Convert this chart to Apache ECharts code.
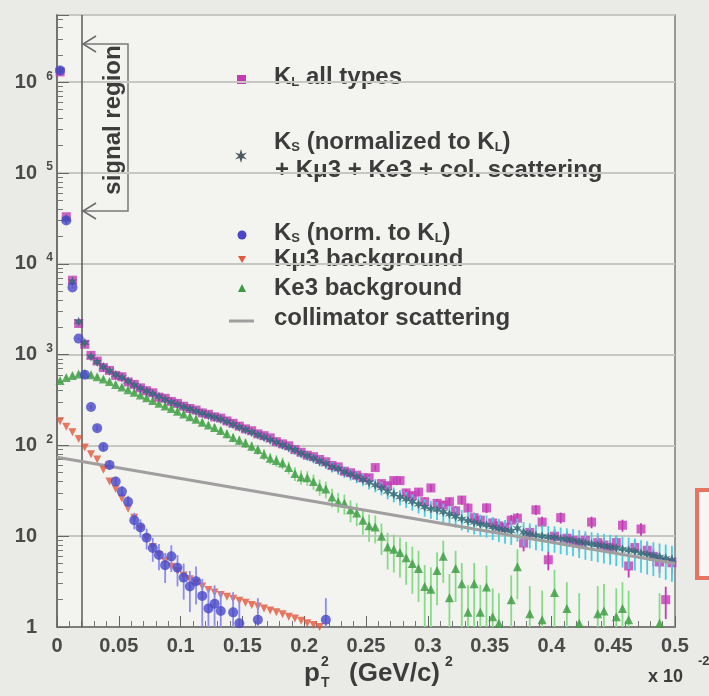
<!DOCTYPE html>
<html>
<head>
<meta charset="utf-8">
<script src="https://cdn.jsdelivr.net/npm/echarts@6/dist/echarts.min.js"></script>
<style>
  html, body { margin: 0; padding: 0; background: #eaeae6; }
  #chart { width: 709px; height: 696px; }
</style>
</head>
<body>
<div id="chart"></div>
<script>
// histogram: 100 bins of 0.005 over pT^2 = 0 .. 0.5 (x 10^-2)
const binWidth = 0.005
const binCenters = Array.from({ length: 100 }, (_, i) => +((i + 0.5) * binWidth).toFixed(4))

// K_L all types (data)
const kLAll = [
  1.3e6, 3.3e4, 6600, 2200, 1300, 980, 850, 720, 670, 590,
  570, 500, 470, 430, 400, 380, 340, 330, 305, 290,
  270, 255, 245, 228, 220, 206, 200, 186, 175, 163,
  152, 145, 134, 128, 121, 110, 104, 99, 90, 84,
  78, 75, 70, 66, 60, 58, 52, 50, 47, 44,
  44, 57, 38, 36, 41, 41, 30, 28, 30.6, 24,
  34, 23, 22, 24, 19, 25, 20.4, 16, 15, 20.5,
  14, 13, 12.5, 15, 15.8, 8.4, 11, 19.5, 14.3, 5.5,
  10, 16, 9.5, 9, 8.5, 9, 14.3, 8.5, 8, 7.5,
  8.5, 13.2, 4.7, 7.5, 12, 7, 6, 5.2, 2.0, 5.1
]

// K_S (normalized to K_L) + Kmu3 + Ke3 + col. scattering
const sumAll = [
  1.35e6, 3.1e4, 6400, 2300, 1350, 950, 830, 730, 660, 600,
  560, 510, 460, 425, 395, 370, 345, 320, 300, 283,
  266, 252, 238, 226, 214, 204, 194, 182, 170, 159,
  149, 140, 131, 123, 115, 108, 101, 95, 89, 82,
  77, 72, 67, 63, 58, 55, 51, 48, 45, 42,
  39, 36.5, 34, 31, 29, 27, 25.5, 24, 22.5, 21,
  20, 19.5, 18.5, 17.5, 16.5, 15.5, 14.8, 14.2, 13.6, 13.3,
  12.6, 12.1, 11.7, 11.4, 12.2, 11, 10.6, 10.2, 10, 9.8,
  9.7, 9.4, 9.2, 9, 8.7, 8.4, 8.2, 8, 7.8, 7.6,
  7.4, 7.2, 7, 6.8, 6.5, 6.3, 6.1, 5.9, 5.7, 5.5
]

// K_S (norm. to K_L)
const kSNorm = [
  1.35e6, 3.0e4, 5500, 1500, 600, 265, 155, 96, 61, 40,
  31, 24, 15, 12.5, 9.6, 7.4, 6.2, 4.8, 6.0, 4.5,
  3.5, 2.8, 3.2, 2.2, 1.6, 1.8, 1.5, null, 1.45, 1.1,
  null, null, 1.2, null, null, null, null, null, null, null,
  null, null, null, 1.2
]

// Kmu3 background
const kMu3 = [
  185, 160, 140, 118, 95, 80, 70, 54, 40, 33,
  26, 20, 16, 12, 9.5, 7.6, 6.2, 5.3, 4.6, 4.1,
  3.7, 3.35, 3.05, 2.8, 2.55, 2.4, 2.25, 2.15, 2.05, 1.95,
  1.85, 1.75, 1.68, 1.6, 1.52, 1.45, 1.38, 1.3, 1.24, 1.17,
  1.1, 1.05, 1.0
]

// Ke3 background
const kE3 = [
  520, 560, 590, 610, 615, 600, 570, 540, 505, 470,
  440, 410, 385, 360, 335, 312, 292, 272, 255, 238,
  222, 207, 194, 180, 168, 157, 146, 134, 122, 114,
  106, 98, 90, 80, 72, 68, 64, 57, 49, 45,
  44, 40, 35, 33, 27, 24, 23, 19.5, 18, 15,
  13, 12.6, 10, 7.6, 7.2, 6.6, 5.8, 5.0, 4.4, 2.8,
  2.6, 4.2, 6.0, 2.1, 4.4, 3.0, 1.45, 3.0, 1.45, 2.75,
  1.3, 1.1, null, 2.0, 4.6, null, 1.4, null, 1.2, null,
  2.4, null, 1.6, null, 1.1, null, null, 1.4, 1.5, null,
  1.3, 1.6, 1.2, null, null, null, null, 1.1, null, null
]

// collimator scattering (fit line)
const colX = [0, 0.5]
const colY = [74, 5]

// relative size of the statistical error bars, err = k * sqrt(v)
const errK = { kL: 0.55, sum: 1.0, kS: 0.8, kE3: 1.2 }

const pts = (arr) => binCenters.map((x, i) => [x, arr[i]]).filter(d => d[1] != null)
const errPts = (arr, k) => pts(arr).map(d => {
  const e = k * Math.sqrt(d[1])
  return [d[0], Math.max(d[1] - e, 0.3), d[1] + e]
})

function errSeries (name, arr, k, color, z) {
  return {
    name,
    type: 'custom',
    clip: true,
    z,
    silent: true,
    renderItem: (params, api) => {
      const a = api.coord([api.value(0), api.value(1)])
      const b = api.coord([api.value(0), api.value(2)])
      return {
        type: 'line',
        shape: { x1: a[0], y1: a[1], x2: b[0], y2: b[1] },
        style: { stroke: color, lineWidth: 1.8 }
      }
    },
    data: errPts(arr, k)
  }
}

const C = {
  kL: '#c43bb6',
  sum: '#2e6572',
  sumErr: '#48cde0',
  kS: '#4747c8',
  kSErr: '#8c8cf0',
  mu3: '#e2583c',
  e3: '#3a9b3e',
  e3Err: '#86dc86',
  col: '#a09e9e',
  text: '#3c3c3c'
}

const starPath = 'path://M0,-10 L2.6,-3.4 L8.7,-5 L4.2,0 L8.7,5 L2.6,3.4 L0,10 L-2.6,3.4 L-8.7,5 L-4.2,0 L-8.7,-5 L-2.6,-3.4 Z'

const font = 'Liberation Sans, Arial, sans-serif'
const legendFont = 'bold 24px ' + font
const subRich = { s: { fontSize: 13, fontWeight: 'bold', fontFamily: font, lineHeight: 12, verticalAlign: 'bottom', fill: C.text } }

function legendText (x, y, text) {
  return {
    type: 'text', x, y,
    style: { text, font: legendFont, fill: C.text, textVerticalAlign: 'middle', rich: subRich }
  }
}

const chart = echarts.init(document.getElementById('chart'))
chart.setOption({
  animation: false,
  backgroundColor: '#eaeae6',
  grid: {
    left: 57, right: 34, top: 15, bottom: 69,
    show: true, backgroundColor: '#f3f3f0', borderColor: '#7c7c7c', borderWidth: 1.5
  },
  xAxis: {
    type: 'value', min: 0, max: 0.5, interval: 0.05,
    axisLine: { lineStyle: { color: '#666', width: 1.5 } },
    axisTick: { inside: true, length: 11, lineStyle: { color: '#666' } },
    minorTick: { show: true, splitNumber: 5, length: 6, lineStyle: { color: '#777' } },
    splitLine: { show: false },
    axisLabel: { margin: 9, fontSize: 20, fontWeight: 'bold', fontFamily: font, color: '#4a4a4a' }
  },
  yAxis: {
    type: 'log', logBase: 10, min: 1, max: 5.5e6,
    axisLine: { lineStyle: { color: '#666', width: 1.5 } },
    axisTick: { inside: true, length: 12, lineStyle: { color: '#666' } },
    minorTick: { show: true, splitNumber: 9, length: 6, lineStyle: { color: '#777' } },
    splitLine: { show: true, lineStyle: { color: '#c6c6c3', width: 2 } },
    axisLabel: {
      margin: 4, showMaxLabel: false,
      formatter: v => {
        const e = Math.round(Math.log10(v))
        if (e === 0) return '{b|1}{s| }'
        if (e === 1) return '{b|10}{s| }'
        return '{b|10}{s|' + e + '}'
      },
      rich: {
        b: { fontSize: 20, fontWeight: 'bold', fontFamily: font, color: '#4a4a4a', lineHeight: 24 },
        s: { fontSize: 12, fontWeight: 'bold', fontFamily: font, color: '#4a4a4a', width: 10, padding: [0, 0, 0, 6], lineHeight: 12, verticalAlign: 'top' }
      }
    }
  },
  series: [
    errSeries('Ke3 err', kE3, errK.kE3, C.e3Err, 1),
    {
      name: 'Ke3 background', type: 'scatter', z: 2,
      symbol: 'triangle', symbolSize: 9,
      itemStyle: { color: C.e3 },
      data: pts(kE3)
    },
    errSeries('K_L err', kLAll, errK.kL, C.kL, 3),
    {
      name: 'K_L all types', type: 'scatter', z: 3,
      symbol: 'rect', symbolSize: 9,
      itemStyle: { color: C.kL },
      data: pts(kLAll)
    },
    errSeries('sum err', sumAll, errK.sum, C.sumErr, 4),
    {
      name: 'K_S + Kmu3 + Ke3 + col. scattering', type: 'scatter', z: 4,
      symbol: starPath, symbolSize: 10,
      itemStyle: { color: C.sum },
      data: pts(sumAll),
      markLine: {
        silent: true, symbol: 'none', animation: false,
        label: { show: false },
        lineStyle: { color: '#5a5a5a', width: 1.5, type: 'solid' },
        data: [{ xAxis: 0.0187 }]
      }
    },
    {
      name: 'collimator scattering', type: 'line', z: 5,
      showSymbol: false,
      lineStyle: { color: C.col, width: 3 },
      data: colX.map((x, i) => [x, colY[i]])
    },
    {
      name: 'Kmu3 background', type: 'scatter', z: 6,
      symbol: 'triangle', symbolRotate: 180, symbolSize: 8,
      itemStyle: { color: C.mu3 },
      data: pts(kMu3)
    },
    errSeries('K_S err', kSNorm, errK.kS, C.kSErr, 7),
    {
      name: 'K_S (norm. to K_L)', type: 'scatter', z: 7,
      symbol: 'circle', symbolSize: 10,
      itemStyle: { color: C.kS },
      data: pts(kSNorm)
    }
  ],
  graphic: [
    // signal region annotation
    { type: 'polyline', shape: { points: [[83, 44], [128, 44], [128, 211], [83, 211]] }, style: { stroke: '#7a7a7a', lineWidth: 1.5, fill: null } },
    { type: 'polyline', shape: { points: [[96, 36], [83, 44], [96, 52]] }, style: { stroke: '#6a6a6a', lineWidth: 1.5, fill: null } },
    { type: 'polyline', shape: { points: [[96, 203], [83, 211], [96, 219]] }, style: { stroke: '#6a6a6a', lineWidth: 1.5, fill: null } },
    {
      type: 'text', x: 113, y: 120, rotation: Math.PI / 2,
      style: { text: 'signal region', font: 'bold 24px ' + font, fill: C.text, textAlign: 'center', textVerticalAlign: 'middle' }
    },
    // legend
    { type: 'rect', shape: { x: 237, y: 75, width: 9, height: 9 }, style: { fill: C.kL } },
    legendText(274, 77, 'K{s|L} all types'),
    { type: 'polygon', shape: { points: [[241, 149], [242.5, 154], [247, 152.5], [243.5, 156], [247, 159.5], [242.5, 158], [241, 163], [239.5, 158], [235, 159.5], [238.5, 156], [235, 152.5], [239.5, 154]] }, style: { fill: '#505a5e' } },
    legendText(274, 142, 'K{s|S} (normalized to K{s|L})'),
    legendText(275, 170, '+ K\u03bc3 + Ke3 + col. scattering'),
    { type: 'circle', shape: { cx: 242, cy: 235, r: 4.5 }, style: { fill: C.kS } },
    legendText(274, 233, 'K{s|S} (norm. to K{s|L})'),
    { type: 'polygon', shape: { points: [[238, 256], [246, 256], [242, 263]] }, style: { fill: C.mu3 } },
    legendText(274, 259, 'K\u03bc3 background'),
    { type: 'polygon', shape: { points: [[238, 292], [246, 292], [242, 284]] }, style: { fill: C.e3 } },
    legendText(274, 288, 'Ke3 background'),
    { type: 'line', shape: { x1: 229, y1: 321, x2: 254, y2: 321 }, style: { stroke: C.col, lineWidth: 3 } },
    legendText(274, 318, 'collimator scattering'),
    // x axis title: p_T^2 (GeV/c)^2
    { type: 'text', x: 304, y: 674, style: { text: 'p', font: 'bold 26px ' + font, fill: C.text, textVerticalAlign: 'middle' } },
    { type: 'text', x: 321, y: 683, style: { text: 'T', font: 'bold 14px ' + font, fill: C.text, textVerticalAlign: 'middle' } },
    { type: 'text', x: 321, y: 662, style: { text: '2', font: 'bold 14px ' + font, fill: C.text, textVerticalAlign: 'middle' } },
    { type: 'text', x: 349, y: 674, style: { text: '(GeV/c)', font: 'bold 26px ' + font, fill: C.text, textVerticalAlign: 'middle' } },
    { type: 'text', x: 445, y: 662, style: { text: '2', font: 'bold 14px ' + font, fill: C.text, textVerticalAlign: 'middle' } },
    // axis multiplier
    { type: 'text', x: 648, y: 677, style: { text: 'x 10', font: 'bold 18px ' + font, fill: C.text, textVerticalAlign: 'middle' } },
    { type: 'text', x: 698, y: 661, style: { text: '-2', font: 'bold 13px ' + font, fill: C.text, textVerticalAlign: 'middle' } },
    // red box at right edge
    { type: 'rect', shape: { x: 697, y: 490, width: 40, height: 88 }, style: { fill: '#f6f6f4', stroke: '#e8735e', lineWidth: 4 } }
  ]
})
</script>
</body>
</html>
